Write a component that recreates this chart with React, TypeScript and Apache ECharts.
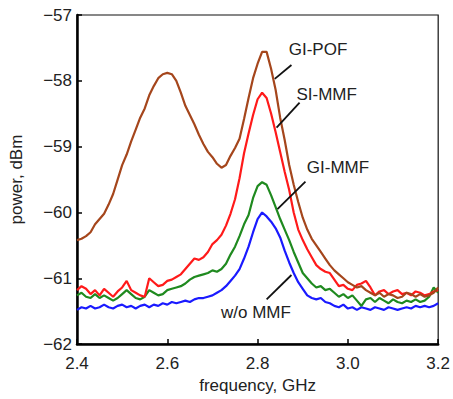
import React, { useEffect, useRef } from "react";
import * as echarts from "echarts";

const freqs: number[] = [];
for (let i = 0; i <= 80; i++) freqs.push(Math.round((2.4 + i * 0.01) * 100) / 100);

const giPof = [
  -60.42, -60.40, -60.36, -60.30, -60.18, -60.10, -60.02, -59.88, -59.72, -59.50,
  -59.28, -59.12, -58.92, -58.74, -58.56, -58.42, -58.22, -58.08, -57.96, -57.90,
  -57.88, -57.90, -58.00, -58.18, -58.38, -58.52, -58.66, -58.82, -58.96, -59.08,
  -59.16, -59.26, -59.32, -59.28, -59.14, -59.02, -58.88, -58.58, -58.26, -57.96,
  -57.74, -57.56, -57.56, -57.82, -58.14, -58.56, -58.90, -59.28, -59.58, -59.84,
  -60.08, -60.26, -60.40, -60.50, -60.60, -60.70, -60.80, -60.88, -60.94, -61.00,
  -61.06, -61.10, -61.14, -61.12, -61.18, -61.22, -61.26, -61.22, -61.28, -61.24,
  -61.26, -61.30, -61.28, -61.22, -61.24, -61.28, -61.24, -61.28, -61.26, -61.22,
  -61.14,
];

const siMmf = [
  -61.18, -61.12, -61.16, -61.24, -61.18, -61.26, -61.16, -61.22, -61.28, -61.20,
  -61.14, -61.04, -61.18, -61.22, -61.26, -61.28, -61.00, -61.06, -61.12, -61.10,
  -61.04, -61.02, -60.98, -60.94, -60.86, -60.78, -60.70, -60.72, -60.68, -60.60,
  -60.48, -60.42, -60.34, -60.20, -60.02, -59.80, -59.48, -59.10, -58.80, -58.52,
  -58.28, -58.18, -58.26, -58.50, -58.78, -59.08, -59.38, -59.66, -60.00, -60.26,
  -60.42, -60.56, -60.68, -60.80, -60.86, -60.90, -60.92, -61.02, -61.12, -61.10,
  -61.16, -61.18, -61.10, -61.08, -61.04, -61.14, -61.26, -61.20, -61.18, -61.24,
  -61.20, -61.18, -61.24, -61.22, -61.26, -61.20, -61.22, -61.26, -61.24, -61.20,
  -61.18,
];

const giMmf = [
  -61.26, -61.22, -61.28, -61.30, -61.24, -61.30, -61.26, -61.30, -61.34, -61.30,
  -61.24, -61.18, -61.24, -61.30, -61.32, -61.28, -61.18, -61.22, -61.26, -61.24,
  -61.18, -61.16, -61.14, -61.12, -61.08, -61.02, -60.98, -60.96, -60.94, -60.92,
  -60.88, -60.90, -60.86, -60.78, -60.64, -60.52, -60.36, -60.18, -60.04, -59.78,
  -59.60, -59.54, -59.58, -59.74, -59.92, -60.10, -60.26, -60.42, -60.60, -60.76,
  -60.92, -61.00, -61.08, -61.14, -61.12, -61.18, -61.16, -61.22, -61.28, -61.24,
  -61.30, -61.26, -61.34, -61.42, -61.32, -61.30, -61.36, -61.30, -61.34, -61.38,
  -61.32, -61.36, -61.38, -61.34, -61.36, -61.32, -61.36, -61.34, -61.28, -61.14,
  -61.22,
];

const woMmf = [
  -61.48, -61.44, -61.46, -61.42, -61.46, -61.44, -61.40, -61.44, -61.46, -61.42,
  -61.40, -61.44, -61.42, -61.46, -61.42, -61.40, -61.44, -61.40, -61.42, -61.38,
  -61.40, -61.36, -61.38, -61.36, -61.34, -61.36, -61.32, -61.30, -61.30, -61.28,
  -61.26, -61.22, -61.18, -61.12, -61.04, -60.96, -60.86, -60.70, -60.52, -60.30,
  -60.10, -60.00, -60.06, -60.14, -60.24, -60.38, -60.58, -60.76, -60.92, -61.06,
  -61.16, -61.26, -61.30, -61.32, -61.30, -61.36, -61.38, -61.42, -61.44, -61.40,
  -61.46, -61.44, -61.48, -61.44, -61.46, -61.48, -61.44, -61.46, -61.48, -61.44,
  -61.46, -61.48, -61.46, -61.44, -61.46, -61.42, -61.44, -61.42, -61.44, -61.42,
  -61.38,
];

const seriesNames = ["GI-POF", "SI-MMF", "GI-MMF", "w/o MMF"];
const seriesColors = ["#a5461c", "#ff1a1a", "#1f8a1f", "#1a1aff"];

const annoLabels = ["GI-POF", "SI-MMF", "GI-MMF", "w/o MMF"];
const annoText: [number, number][] = [
  [2.869, -57.53],
  [2.886, -58.21],
  [2.909, -59.32],
  [2.719, -61.52],
];
const annoLeaderFrom: [number, number][] = [
  [2.838, -57.97],
  [2.842, -58.71],
  [2.844, -59.95],
  [2.82, -61.32],
];
const annoLeaderTo: [number, number][] = [
  [2.875, -57.76],
  [2.893, -58.33],
  [2.906, -59.53],
  [2.875, -60.95],
];

const FONT = "'Liberation Sans', Arial, Helvetica, sans-serif";
const fmtY = (v: number) => (v < 0 ? "\u2212" + Math.abs(v) : String(v));

export default function App() {
  const ref = useRef<HTMLDivElement>(null);
  useEffect(() => {
    if (!ref.current) return;
    const chart = echarts.init(ref.current, null, { renderer: "svg" });
    const all = [giPof, siMmf, giMmf, woMmf];
    chart.setOption({
      animation: false,
      backgroundColor: "#ffffff",
      grid: {
        left: 77,
        right: 14,
        top: 15,
        bottom: 54,
        show: true,
        borderColor: "#111",
        borderWidth: 1.2,
        backgroundColor: "transparent",
      },
      xAxis: {
        type: "value",
        min: 2.4,
        max: 3.2,
        interval: 0.2,
        name: "frequency, GHz",
        nameLocation: "middle",
        nameGap: 30,
        nameTextStyle: { fontFamily: FONT, fontSize: 17, color: "#222" },
        axisLine: { show: true, onZero: false, lineStyle: { color: "#000", width: 2.5 } },
        axisTick: { show: true, inside: true, length: 5, lineStyle: { color: "#000", width: 1.5 } },
        axisLabel: {
          fontFamily: FONT,
          fontSize: 17,
          color: "#222",
          margin: 11,
          formatter: (v: number) => v.toFixed(1),
        },
        splitLine: { show: false },
      },
      yAxis: {
        type: "value",
        min: -62,
        max: -57,
        interval: 1,
        name: "power, dBm",
        nameLocation: "middle",
        nameGap: 52,
        nameTextStyle: { fontFamily: FONT, fontSize: 17, color: "#222" },
        axisLine: { show: true, onZero: false, lineStyle: { color: "#000", width: 2.5 } },
        axisTick: { show: true, inside: true, length: 5, lineStyle: { color: "#000", width: 1.5 } },
        axisLabel: {
          fontFamily: FONT,
          fontSize: 17,
          color: "#222",
          margin: 5,
          formatter: fmtY,
        },
        splitLine: { show: false },
      },
      series: seriesNames.map((name, i) => ({
        name,
        type: "line",
        data: freqs.map((f, j) => [f, all[i][j]]),
        showSymbol: false,
        symbol: "none",
        lineStyle: { color: seriesColors[i], width: 2.2 },
        z: 10 - i,
      })),
    });

    const graphics: any[] = [];
    annoLabels.forEach((label, i) => {
      const t = chart.convertToPixel({ gridIndex: 0 }, annoText[i]) as number[];
      const a = chart.convertToPixel({ gridIndex: 0 }, annoLeaderFrom[i]) as number[];
      const b = chart.convertToPixel({ gridIndex: 0 }, annoLeaderTo[i]) as number[];
      graphics.push({
        type: "line",
        shape: { x1: a[0], y1: a[1], x2: b[0], y2: b[1] },
        style: { stroke: "#111", lineWidth: 1.8 },
        z: 100,
      });
      graphics.push({
        type: "text",
        x: t[0],
        y: t[1],
        style: {
          text: label,
          font: `17px ${FONT}`,
          fill: "#222",
          textVerticalAlign: "middle",
          verticalAlign: "middle",
        },
        z: 100,
      });
    });
    chart.setOption({ graphic: graphics });

    return () => chart.dispose();
  }, []);
  return (
    <div
      ref={ref}
      style={{ position: "absolute", left: 0, top: 0, width: 453, height: 399 }}
    />
  );
}
